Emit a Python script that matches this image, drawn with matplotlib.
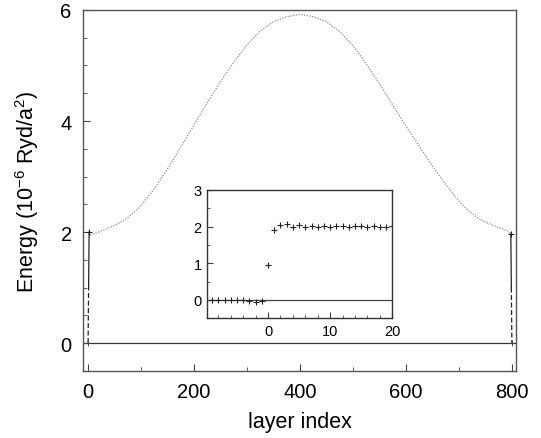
import numpy as np
import matplotlib
matplotlib.use("Agg")
import matplotlib.pyplot as plt
from matplotlib.ticker import MultipleLocator

plt.rcParams['font.family'] = ['Liberation Sans', 'DejaVu Sans']
plt.rcParams['mathtext.fontset'] = 'custom'
plt.rcParams['mathtext.rm'] = 'Liberation Sans'
plt.rcParams['mathtext.it'] = 'Liberation Sans:italic'

# Main panel: energy per layer
layer = [0, 1, 2, 5, 15, 25, 40, 50, 62, 75, 87, 100, 112, 125, 150, 175,
         200, 225, 250, 275, 300, 325, 350, 375, 400, 425, 450, 475, 500,
         525, 550, 575, 600, 625, 650, 675, 688, 700, 713, 725, 738, 750,
         760, 775, 785, 795, 798, 799, 800]
energy = [0.0, 1.0, 2.0, 1.95, 1.98, 2.02, 2.08, 2.12, 2.18, 2.26, 2.36,
          2.48, 2.62, 2.78, 3.14, 3.53, 3.93, 4.33, 4.71, 5.06, 5.37, 5.62,
          5.79, 5.88, 5.92, 5.88, 5.79, 5.61, 5.36, 5.03, 4.67, 4.29, 3.91,
          3.55, 3.19, 2.86, 2.70, 2.56, 2.43, 2.33, 2.24, 2.18, 2.14, 2.08,
          2.05, 2.01, 1.97, 1.0, 0.0]

# Inset: zoom on the interface region
inset_x = list(range(-9, 21))
inset_e = [0.0, 0.0, 0.0, 0.0, 0.0, 0.0, -0.02, -0.06, -0.04, 0.95,
           1.90, 2.03, 2.08, 1.99, 2.03, 2.0, 2.01, 2.0, 2.02, 2.0,
           2.01, 2.02, 2.0, 2.01, 2.02, 2.0, 2.01, 2.0, 2.0, 2.02]

fig = plt.figure(figsize=(5.41, 4.39), dpi=100)
ax = fig.add_axes([0.153, 0.153, 0.801, 0.822])

ax.axhline(0, color='#333333', lw=0.9, zorder=1)
# bulk curve (fine dotted grey)
ax.plot(layer[2:-2], energy[2:-2], color='#8a8a8a', ls=(0, (1, 1.2)), lw=0.9)
# sharp steps at both ends
ax.plot(layer[1:3], energy[1:3], color='#222222', lw=0.9)
ax.plot(layer[-3:-1], energy[-3:-1], color='#222222', lw=0.9)
ax.plot(layer[0:2], energy[0:2], color='#222222', lw=0.9, ls=(0, (4, 2)))
ax.plot(layer[-2:], energy[-2:], color='#222222', lw=0.9, ls=(0, (4, 2)))
ax.plot([layer[2], layer[-3]], [energy[2], energy[-3]], ls='none',
        marker='+', ms=5, mew=0.8, color='#222222')
ax.plot([layer[0], layer[-1]], [energy[0], energy[-1]], ls='none',
        marker='+', ms=4, mew=0.7, color='#444444')

ax.set_xlim(-10, 808)
ax.set_ylim(-0.5, 6)
ax.xaxis.set_major_locator(MultipleLocator(200))
ax.xaxis.set_minor_locator(MultipleLocator(100))
ax.yaxis.set_major_locator(MultipleLocator(2))
ax.yaxis.set_minor_locator(MultipleLocator(0.5))
ax.tick_params(which='both', direction='in', top=False, right=False,
               labelsize=14.5, color='#444444')
ax.tick_params(which='major', length=5, pad=8)
ax.tick_params(which='minor', length=3)
for s in ax.spines.values():
    s.set_color('#555555')
    s.set_linewidth(1.0)
ax.set_xlabel('layer index', fontsize=15.5, labelpad=7)
ax.set_ylabel(r'Energy (10$^{-6}$ Ryd/a$^{2}$)', fontsize=15.5, labelpad=14)

# inset
axi = fig.add_axes([0.383, 0.273, 0.342, 0.292])
axi.axhline(0, color='#444444', lw=0.9, zorder=1)
axi.plot(inset_x, inset_e, ls='none', marker='+', ms=4, mew=0.8,
         color='#222222')
axi.set_xlim(-9.8, 20)
axi.set_ylim(-0.5, 3)
axi.set_xticks([0, 10, 20])
axi.xaxis.set_minor_locator(MultipleLocator(2))
axi.yaxis.set_major_locator(MultipleLocator(1))
axi.yaxis.set_minor_locator(MultipleLocator(0.5))
axi.tick_params(which='both', direction='in', top=False, right=False,
                labelsize=10.5, color='#444444')
axi.tick_params(which='major', length=4, pad=4)
axi.tick_params(which='minor', length=2.5)
for s in axi.spines.values():
    s.set_color('#333333')
    s.set_linewidth(1.0)

fig.savefig('out.png', dpi=100)
